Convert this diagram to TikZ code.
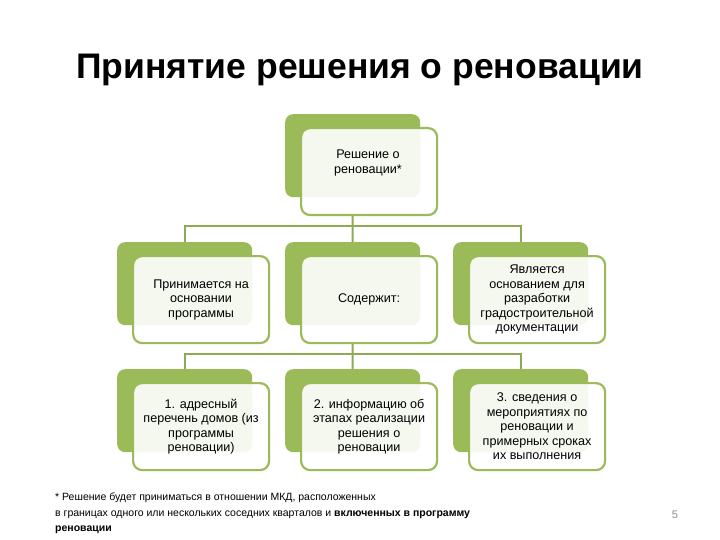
\documentclass[tikz,border=0pt]{standalone}
\usepackage{fontspec}
\setmainfont{Liberation Sans}
\definecolor{olive}{HTML}{9BBB59}
\definecolor{conncol}{HTML}{8EAA52}
\definecolor{pgnum}{HTML}{8C8C8C}
\tikzset{
  gbox/.style={draw=none, fill=olive, rounded corners=8pt, minimum width=135pt, minimum height=83pt, inner sep=0pt, anchor=north west},
  wbox/.style={draw=olive, line width=2.2pt, fill=white, fill opacity=0.9, rounded corners=9pt, minimum width=136pt, minimum height=87pt, inner sep=0pt, anchor=north west},
  btext/.style={font=\fontsize{12.6}{14.5}\selectfont, align=center, inner sep=0pt},
  conn/.style={draw=conncol, line width=2pt},
}
\begin{document}
\begin{tikzpicture}[x=1pt,y=-1pt]
\useasboundingbox (0,0) rectangle (720,540);
\node[font=\fontsize{35.5}{40}\selectfont\bfseries] (title) at (360,70) {Принятие решения о реновации};
% green back boxes
\node[gbox] (g0) at (285,114) {};
\node[gbox] (g1) at (117,242) {};
\node[gbox] (g2) at (285,242) {};
\node[gbox] (g3) at (453,242) {};
\node[gbox] (g4) at (117,369) {};
\node[gbox] (g5) at (285,369) {};
\node[gbox] (g6) at (453,369) {};
% white front boxes
\node[wbox] (w0) at (300,127) {};
\node[wbox] (w1) at (132,255) {};
\node[wbox] (w2) at (300,255) {};
\node[wbox] (w3) at (468,255) {};
\node[wbox] (w4) at (132,382) {};
\node[wbox] (w5) at (300,382) {};
\node[wbox] (w6) at (468,382) {};
% texts
\node[btext] (t0) at (368,163) {Решение о\\реновации*};
\node[btext] (t1) at (w1.center) {Принимается на\\основании\\программы};
\node[btext] (t2) at (w2.center) {Содержит:};
\node[btext] (t3) at (w3.center) {Является\\основанием для\\разработки\\градостроительной\\документации};
\node[btext] (t4) at (w4.center) {1. адресный\\перечень домов (из\\программы\\реновации)};
\node[btext] (t5) at (w5.center) {2. информацию об\\этапах реализации\\решения о\\реновации};
\node[btext] (t6) at (w6.center) {3. сведения о\\мероприятиях по\\реновации и\\примерных сроках\\их выполнения};
% connectors
\coordinate (j1) at (352.5,226);
\coordinate (j2) at (352.5,354);
\draw[conn] (g0.center |- w0.south) -- (j1);
\draw[conn] (g1.north) |- (j1) -| (g3.north);
\draw[conn] (j1) -- (g2.north);
\draw[conn] (g2.center |- w2.south) -- (j2);
\draw[conn] (g4.north) |- (j2) -| (g6.north);
\draw[conn] (j2) -- (g5.north);
% footnote
\node[anchor=north west, align=left, inner sep=0pt, font=\fontsize{10.5}{15.5}\selectfont] (foot) at (55,493)
  {* Решение будет приниматься в отношении МКД, расположенных\\
   в границах одного или нескольких соседних кварталов и \textbf{включенных в программу}\\
   \textbf{реновации}};
\node[font=\fontsize{11}{13}\selectfont, text=pgnum] (pg) at (675,515) {5};
\end{tikzpicture}
\end{document}
